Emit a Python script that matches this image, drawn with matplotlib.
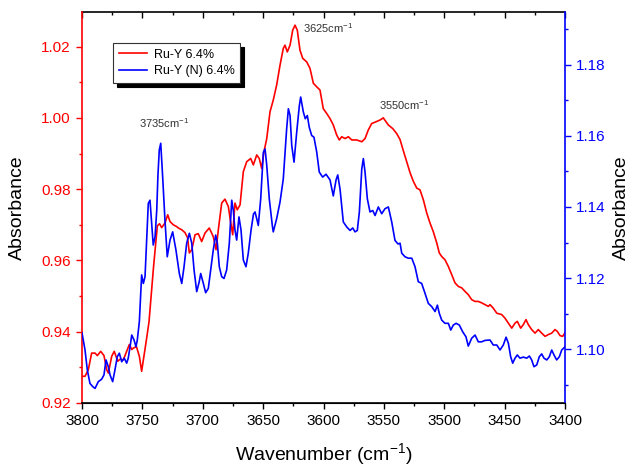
import matplotlib
matplotlib.use("Agg")
import matplotlib.pyplot as plt
from matplotlib.ticker import MultipleLocator, FormatStrFormatter

plt.rcParams['font.family'] = ['Liberation Sans', 'DejaVu Sans']
plt.rcParams['mathtext.fontset'] = 'custom'
plt.rcParams['mathtext.rm'] = 'Liberation Sans'
plt.rcParams['mathtext.it'] = 'Liberation Sans:italic'
plt.rcParams['mathtext.default'] = 'regular'

series_labels = ["Ru-Y 6.4%", "Ru-Y (N) 6.4%"]

wn_red = [3800.0, 3797.5, 3794.8, 3792.0, 3789.2, 3787.3, 3784.5, 3781.8, 3779.5, 3778.2, 3775.4, 3773.3, 3770.4, 3768.5, 3765.8, 3763.0, 3760.8, 3758.8, 3757.5, 3754.9, 3752.5, 3750.6, 3748.7, 3746.4, 3744.5, 3742.3, 3740.8, 3739.1, 3737.6, 3735.8, 3734.0, 3731.3, 3729.0, 3727.1, 3724.4, 3721.6, 3720.2, 3717.4, 3714.7, 3712.6, 3711.1, 3709.1, 3706.4, 3703.7, 3700.9, 3698.1, 3694.6, 3691.3, 3689.0, 3687.1, 3684.3, 3681.6, 3678.8, 3676.8, 3675.2, 3673.3, 3671.4, 3669.1, 3666.4, 3663.6, 3660.3, 3658.1, 3655.3, 3653.2, 3651.2, 3649.3, 3647.0, 3644.3, 3641.6, 3638.8, 3636.0, 3633.3, 3631.9, 3630.0, 3627.7, 3625.5, 3623.6, 3621.7, 3619.5, 3617.2, 3613.9, 3611.2, 3608.4, 3605.6, 3602.9, 3600.2, 3597.3, 3594.6, 3591.9, 3589.1, 3586.9, 3584.9, 3582.2, 3579.4, 3576.6, 3572.5, 3568.3, 3565.6, 3562.9, 3560.1, 3556.5, 3553.2, 3550.5, 3548.2, 3546.3, 3542.7, 3539.4, 3536.6, 3533.9, 3531.1, 3528.3, 3525.6, 3522.8, 3520.1, 3517.3, 3514.5, 3511.8, 3509.1, 3506.2, 3504.1, 3502.1, 3499.4, 3496.6, 3493.8, 3491.1, 3488.3, 3485.5, 3482.8, 3480.1, 3477.3, 3474.5, 3471.8, 3469.0, 3466.2, 3463.5, 3462.1, 3459.4, 3456.5, 3452.4, 3449.7, 3446.9, 3444.1, 3441.4, 3439.5, 3436.7, 3434.5, 3432.3, 3430.4, 3427.6, 3424.8, 3422.1, 3419.3, 3416.5, 3413.8, 3411.0, 3408.3, 3406.4, 3404.1, 3401.9, 3400.0]

abs_red = [0.9275, 0.9275, 0.9293, 0.9340, 0.9340, 0.9333, 0.9345, 0.9333, 0.9293, 0.9284, 0.9331, 0.9345, 0.9317, 0.9323, 0.9321, 0.9345, 0.9364, 0.9350, 0.9354, 0.9358, 0.9331, 0.9289, 0.9331, 0.9383, 0.9428, 0.9518, 0.9580, 0.9644, 0.9697, 0.9703, 0.9692, 0.9705, 0.9728, 0.9709, 0.9700, 0.9695, 0.9691, 0.9686, 0.9678, 0.9664, 0.9621, 0.9630, 0.9672, 0.9675, 0.9653, 0.9677, 0.9691, 0.9667, 0.9630, 0.9686, 0.9761, 0.9772, 0.9751, 0.9705, 0.9672, 0.9761, 0.9742, 0.9756, 0.9849, 0.9877, 0.9886, 0.9868, 0.9896, 0.9886, 0.9858, 0.9905, 0.9942, 1.0017, 1.0050, 1.0092, 1.0148, 1.0195, 1.0204, 1.0185, 1.0204, 1.0246, 1.0260, 1.0246, 1.0190, 1.0167, 1.0157, 1.0139, 1.0097, 1.0087, 1.0078, 1.0026, 1.0012, 0.9998, 0.9980, 0.9952, 0.9938, 0.9947, 0.9942, 0.9947, 0.9938, 0.9938, 0.9933, 0.9942, 0.9966, 0.9984, 0.9989, 0.9994, 1.0000, 0.9989, 0.9980, 0.9970, 0.9956, 0.9939, 0.9908, 0.9877, 0.9846, 0.9822, 0.9803, 0.9798, 0.9770, 0.9733, 0.9705, 0.9681, 0.9649, 0.9621, 0.9611, 0.9602, 0.9583, 0.9560, 0.9537, 0.9527, 0.9523, 0.9513, 0.9504, 0.9490, 0.9485, 0.9485, 0.9481, 0.9476, 0.9471, 0.9476, 0.9466, 0.9452, 0.9448, 0.9438, 0.9424, 0.9410, 0.9424, 0.9429, 0.9410, 0.9420, 0.9434, 0.9420, 0.9406, 0.9396, 0.9406, 0.9396, 0.9387, 0.9392, 0.9396, 0.9406, 0.9401, 0.9389, 0.9387, 0.9397]

wn_blue = [3800.0, 3797.5, 3795.6, 3793.4, 3791.1, 3789.2, 3786.5, 3783.7, 3781.8, 3780.1, 3778.2, 3776.8, 3774.6, 3772.7, 3770.8, 3769.1, 3767.1, 3765.0, 3763.0, 3761.7, 3760.2, 3758.8, 3756.9, 3755.3, 3754.2, 3752.5, 3750.6, 3749.2, 3747.8, 3745.1, 3743.7, 3742.3, 3741.0, 3739.5, 3738.1, 3737.1, 3736.0, 3734.8, 3733.2, 3731.3, 3729.4, 3727.1, 3724.9, 3722.2, 3719.4, 3717.4, 3715.5, 3713.3, 3711.1, 3709.1, 3707.2, 3705.0, 3702.9, 3701.7, 3699.5, 3697.6, 3695.4, 3693.4, 3691.3, 3689.3, 3687.9, 3686.3, 3684.3, 3682.4, 3680.2, 3678.0, 3676.0, 3674.7, 3673.3, 3671.9, 3670.0, 3668.3, 3666.4, 3664.2, 3662.3, 3660.0, 3658.0, 3656.7, 3655.3, 3654.0, 3652.0, 3649.8, 3648.4, 3647.0, 3644.9, 3642.4, 3641.6, 3638.8, 3636.0, 3633.3, 3630.5, 3629.1, 3627.7, 3626.3, 3624.4, 3622.2, 3620.0, 3618.9, 3616.7, 3615.1, 3613.4, 3611.8, 3609.8, 3607.9, 3605.6, 3603.5, 3600.7, 3597.9, 3594.6, 3591.9, 3589.6, 3588.2, 3586.3, 3583.6, 3580.8, 3578.0, 3575.8, 3573.9, 3572.0, 3570.3, 3568.3, 3567.0, 3565.6, 3563.7, 3561.5, 3559.2, 3557.3, 3554.6, 3551.8, 3549.1, 3546.3, 3543.5, 3540.8, 3538.3, 3536.6, 3535.2, 3532.5, 3529.8, 3526.9, 3524.2, 3521.5, 3518.7, 3515.9, 3513.2, 3510.4, 3507.6, 3505.7, 3504.1, 3502.1, 3499.4, 3496.6, 3494.6, 3492.5, 3490.2, 3487.5, 3484.7, 3482.0, 3480.1, 3477.3, 3474.5, 3471.8, 3469.0, 3466.2, 3462.1, 3459.4, 3456.5, 3453.8, 3451.1, 3448.8, 3446.9, 3445.0, 3443.3, 3441.4, 3439.5, 3437.3, 3434.5, 3431.7, 3429.5, 3427.6, 3425.7, 3423.4, 3421.3, 3419.3, 3417.4, 3415.1, 3413.0, 3411.0, 3409.1, 3406.9, 3404.7, 3402.7, 3400.0]

abs_blue = [1.1046, 1.0998, 1.0942, 1.0904, 1.0895, 1.0890, 1.0909, 1.0916, 1.0928, 1.0970, 1.0951, 1.0928, 1.0909, 1.0942, 1.0979, 1.0989, 1.0965, 1.0975, 1.0961, 1.0975, 1.1007, 1.1040, 1.1026, 1.1007, 1.1026, 1.1078, 1.1209, 1.1185, 1.1204, 1.1410, 1.1419, 1.1354, 1.1293, 1.1316, 1.1391, 1.1490, 1.1560, 1.1579, 1.1485, 1.1363, 1.1260, 1.1307, 1.1330, 1.1279, 1.1213, 1.1185, 1.1232, 1.1298, 1.1326, 1.1298, 1.1223, 1.1162, 1.1190, 1.1213, 1.1185, 1.1159, 1.1171, 1.1223, 1.1279, 1.1321, 1.1298, 1.1232, 1.1204, 1.1199, 1.1223, 1.1298, 1.1419, 1.1391, 1.1335, 1.1307, 1.1372, 1.1335, 1.1251, 1.1232, 1.1270, 1.1335, 1.1380, 1.1386, 1.1367, 1.1348, 1.1423, 1.1554, 1.1563, 1.1517, 1.1423, 1.1348, 1.1330, 1.1367, 1.1414, 1.1479, 1.1620, 1.1676, 1.1657, 1.1573, 1.1526, 1.1610, 1.1685, 1.1709, 1.1667, 1.1648, 1.1657, 1.1624, 1.1601, 1.1596, 1.1554, 1.1498, 1.1484, 1.1492, 1.1476, 1.1431, 1.1476, 1.1490, 1.1450, 1.1358, 1.1344, 1.1334, 1.1341, 1.1330, 1.1334, 1.1386, 1.1507, 1.1536, 1.1498, 1.1423, 1.1386, 1.1390, 1.1376, 1.1400, 1.1381, 1.1395, 1.1400, 1.1358, 1.1306, 1.1296, 1.1298, 1.1270, 1.1260, 1.1256, 1.1256, 1.1232, 1.1190, 1.1185, 1.1157, 1.1129, 1.1120, 1.1106, 1.1124, 1.1101, 1.1082, 1.1073, 1.1073, 1.1054, 1.1068, 1.1073, 1.1068, 1.1049, 1.1035, 1.1009, 1.1031, 1.1040, 1.1021, 1.1021, 1.1025, 1.1026, 1.1012, 1.1012, 1.0998, 1.1012, 1.1034, 1.1017, 1.0979, 1.0961, 1.0975, 1.0984, 1.0975, 1.0978, 1.0975, 1.0981, 1.0970, 1.0951, 1.0956, 1.0979, 1.0987, 1.0975, 1.0970, 1.0979, 1.0998, 1.0984, 1.0970, 1.0979, 1.0998, 1.1007]

peak_labels = ["3735cm$^{-1}$", "3625cm$^{-1}$", "3550cm$^{-1}$"]
peak_label_x = [3752.8, 3616.7, 3553.8]
peak_label_y = [0.9971, 1.0238, 1.0023]

RED = "#ff0000"
BLUE = "#0000ff"

fig = plt.figure(figsize=(6.34, 4.66), dpi=100)
ax = fig.add_axes([82/634, 1 - 403/466, (565-82)/634, (403-12)/466])
ax2 = ax.twinx()

l1, = ax.plot(wn_red, abs_red, color=RED, lw=1.2)
l2, = ax2.plot(wn_blue, abs_blue, color=BLUE, lw=1.2)

ax.set_xlim(3800, 3400)
ax.set_ylim(0.92, 1.0297)
ax2.set_ylim(1.0849, 1.1948)

ax.xaxis.set_major_locator(MultipleLocator(50))
ax.xaxis.set_minor_locator(MultipleLocator(25))
ax.yaxis.set_major_locator(MultipleLocator(0.02))
ax.yaxis.set_minor_locator(MultipleLocator(0.01))
ax.yaxis.set_major_formatter(FormatStrFormatter('%.2f'))
ax2.yaxis.set_major_locator(MultipleLocator(0.02))
ax2.yaxis.set_minor_locator(MultipleLocator(0.01))
ax2.yaxis.set_major_formatter(FormatStrFormatter('%.2f'))

ax.tick_params(axis='x', which='major', direction='out', length=4, width=1, labelsize=11, pad=4, colors='black')
ax.tick_params(axis='x', which='minor', direction='out', length=2.5, width=1)
ax.tick_params(axis='y', which='major', direction='out', length=4, width=1, labelsize=11, pad=4, colors=RED)
ax.tick_params(axis='y', which='minor', direction='out', length=2.5, width=1, colors=RED)
ax2.tick_params(axis='y', which='major', direction='out', length=4, width=1, labelsize=11, pad=4, colors=BLUE)
ax2.tick_params(axis='y', which='minor', direction='out', length=2.5, width=1, colors=BLUE)

top = ax.secondary_xaxis('top')
top.xaxis.set_major_locator(MultipleLocator(50))
top.xaxis.set_minor_locator(MultipleLocator(25))
top.tick_params(axis='x', which='major', direction='in', length=4, width=1, labeltop=False)
top.tick_params(axis='x', which='minor', direction='in', length=2.5, width=1)
top.spines['top'].set_linewidth(1.2)

for a in (ax, ax2):
    a.spines['top'].set_visible(False)
ax.spines['right'].set_visible(False)
ax2.spines['left'].set_visible(False)
ax.spines['left'].set_color(RED)
ax.spines['left'].set_linewidth(1.2)
ax2.spines['right'].set_color(BLUE)
ax2.spines['right'].set_linewidth(1.2)
ax.spines['bottom'].set_linewidth(1.2)

ax.set_xlabel("Wavenumber (cm$^{-1}$)", fontsize=14, labelpad=9)
ax.set_ylabel("Absorbance", fontsize=14)
ax2.set_ylabel("Absorbance", fontsize=14, rotation=90)
ax.yaxis.set_label_coords(-0.116, 0.5)
ax2.yaxis.set_label_coords(1.100, 0.5)

for t, x, y in zip(peak_labels, peak_label_x, peak_label_y):
    ax.text(x, y, t, fontsize=8, color='#333333', ha='left', va='baseline')

leg = ax2.legend([l1, l2], series_labels, loc='upper left',
                 bbox_to_anchor=(0.064, 0.921), borderaxespad=0,
                 fontsize=9, frameon=True, fancybox=False,
                 shadow={'color': 'black', 'alpha': 1.0, 'ox': 3, 'oy': -3},
                 handlelength=2.3, handletextpad=0.5, labelspacing=0.35,
                 borderpad=0.45)
leg.get_frame().set_edgecolor('#333333')
leg.get_frame().set_linewidth(0.8)

fig.savefig("out.png", dpi=100)
